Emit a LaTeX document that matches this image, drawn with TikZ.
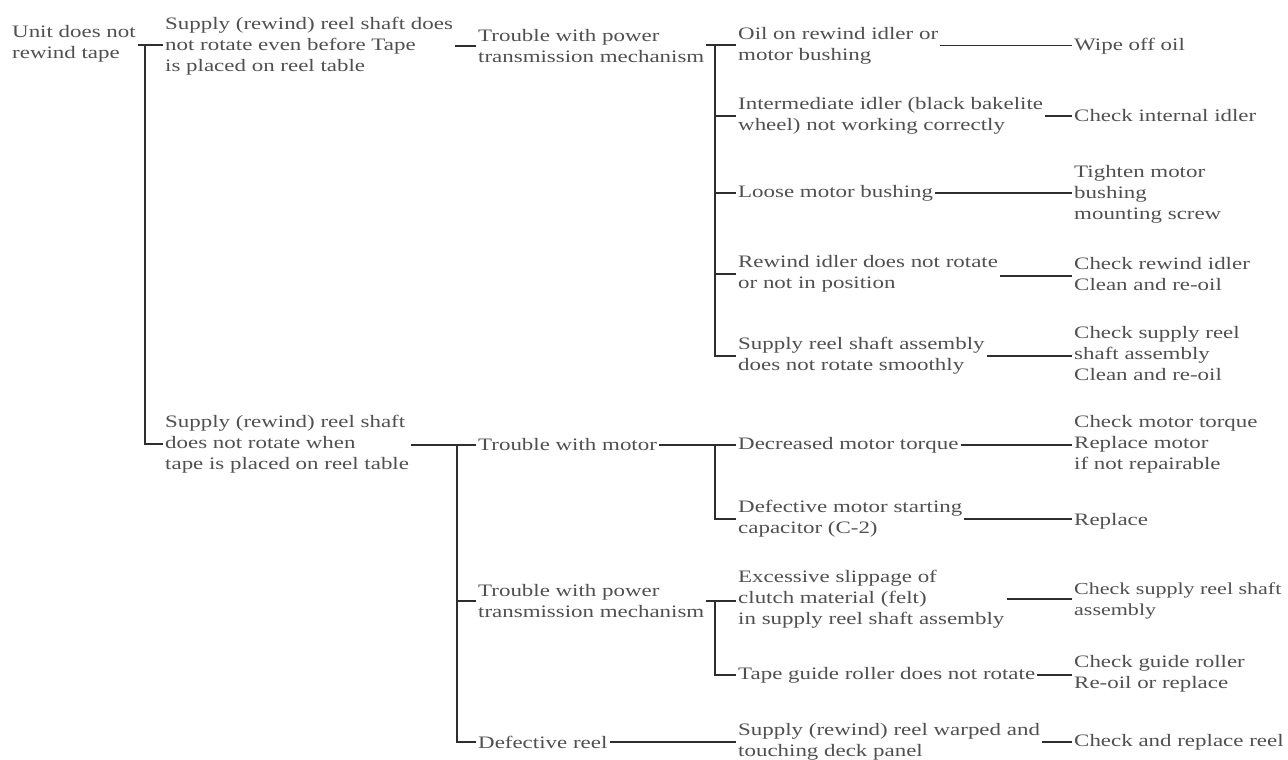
\documentclass[tikz,border=0pt]{standalone}
\usepackage{fontspec}
\setmainfont{Liberation Serif}[FakeStretch=1.31]
\definecolor{txtgray}{HTML}{505050}
\definecolor{linegray}{HTML}{2E2E2E}
\begin{document}
\begin{tikzpicture}[x=1pt,y=-1pt,
  txt/.style={anchor=west, align=left, inner sep=2pt, text=txtgray,
    font=\fontsize{17.5}{21}\selectfont},
  conn/.style={draw=linegray, line width=1.3pt}]
\useasboundingbox[fill=white] (0,0) rectangle (1288,760);
% column 0
\node[txt] (root) at (10,44) {Unit does not\\rewind tape};
% column 1
\node[txt] (c1a) at (163,46) {Supply (rewind) reel shaft does\\not rotate even before Tape\\is placed on reel table};
\node[txt] (c1b) at (163,444) {Supply (rewind) reel shaft\\does not rotate when\\tape is placed on reel table};
% column 2
\node[txt] (c2a) at (476,46) {Trouble with power\\transmission mechanism};
\node[txt] (c2b) at (476,445) {Trouble with motor};
\node[txt] (c2c) at (476,601) {Trouble with power\\transmission mechanism};
\node[txt] (c2d) at (476,742) {Defective reel};
% column 3
\node[txt] (c3a) at (736,45.5) {Oil on rewind idler or\\motor bushing};
\node[txt] (c3b) at (736,116) {Intermediate idler (black bakelite\\wheel) not working correctly};
\node[txt] (c3c) at (736,193) {Loose motor bushing};
\node[txt] (c3d) at (736,274) {Rewind idler does not rotate\\or not in position};
\node[txt] (c3e) at (736,356) {Supply reel shaft assembly\\does not rotate smoothly};
\node[txt] (c3f) at (736,445) {Decreased motor torque};
\node[txt] (c3g) at (736,519) {Defective motor starting\\capacitor (C-2)};
\node[txt] (c3h) at (736,599) {Excessive slippage of\\clutch material (felt)\\in supply reel shaft assembly};
\node[txt] (c3i) at (736,675) {Tape guide roller does not rotate};
\node[txt] (c3j) at (736,742) {Supply (rewind) reel warped and\\touching deck panel};
% column 4
\node[txt] (c4a) at (1072,46) {Wipe off oil};
\node[txt] (c4b) at (1072,116) {Check internal idler};
\node[txt] (c4c) at (1072,194) {Tighten motor\\bushing\\mounting screw};
\node[txt] (c4d) at (1072,274) {Check rewind idler\\Clean and re-oil};
\node[txt] (c4e) at (1072,354) {Check supply reel\\shaft assembly\\Clean and re-oil};
\node[txt] (c4f) at (1072,444) {Check motor torque\\Replace motor\\if not repairable};
\node[txt] (c4g) at (1072,521) {Replace};
\node[txt, font=\fontsize{16.8}{21}\selectfont] (c4h) at (1072,601) {Check supply reel shaft\\assembly};
\node[txt] (c4i) at (1072,674) {Check guide roller\\Re-oil or replace};
\node[txt] (c4j) at (1072,742) {Check and replace reel};
% junctions
\coordinate (j1) at (145,45);
\coordinate (j1b) at (457,445);
\coordinate (j2a) at (715,45);
\coordinate (j2b) at (715,445);
\coordinate (j2c) at (715,601);
% tree 1
\draw[conn] (root.east |- j1) -- (j1) -- (j1 -| c1a.west);
\draw[conn] (c1b.west) -| (j1);
% c1a -> c2a
\draw[conn] (c1a.east) -- (c1a.east -| c2a.west);
% c2a tree
\draw[conn] (c2a.east |- j2a) -- (j2a -| c3a.west);
\draw[conn] (c3b.west) -| (j2a);
\draw[conn] (c3c.west) -| (j2a);
\draw[conn] (c3d.west) -| (j2a);
\draw[conn] (c3e.west) -| (j2a);
% c1b tree
\draw[conn] (c1b.east |- j1b) -- (j1b -| c2b.west);
\draw[conn] (c2c.west) -| (j1b);
\draw[conn] (c2d.west) -| (j1b);
% c2b tree
\draw[conn] (c2b.east) -- (c2b.east -| c3f.west);
\draw[conn] (c3g.west) -| (j2b);
% c2c tree
\draw[conn] (c2c.east |- j2c) -- (j2c -| c3h.west);
\draw[conn] (c3i.west) -| (j2c);
% c2d
\draw[conn] (c2d.east) -- (c2d.east -| c3j.west);
% column 3 -> column 4
\draw[conn] (c3a.east) -- (c3a.east -| c4a.west);
\draw[conn] (c3b.east) -- (c3b.east -| c4b.west);
\draw[conn] (c3c.east) -- (c3c.east -| c4c.west);
\draw[conn] ([yshift=-2pt]c3d.east) -- ([yshift=-2pt]c3d.east -| c4d.west);
\draw[conn] (c3e.east) -- (c3e.east -| c4e.west);
\draw[conn] (c3f.east) -- (c3f.east -| c4f.west);
\draw[conn] (c3g.east) -- (c3g.east -| c4g.west);
\draw[conn] (c3h.east) -- (c3h.east -| c4h.west);
\draw[conn] (c3i.east) -- (c3i.east -| c4i.west);
\draw[conn] (c3j.east) -- (c3j.east -| c4j.west);
\end{tikzpicture}
\end{document}
